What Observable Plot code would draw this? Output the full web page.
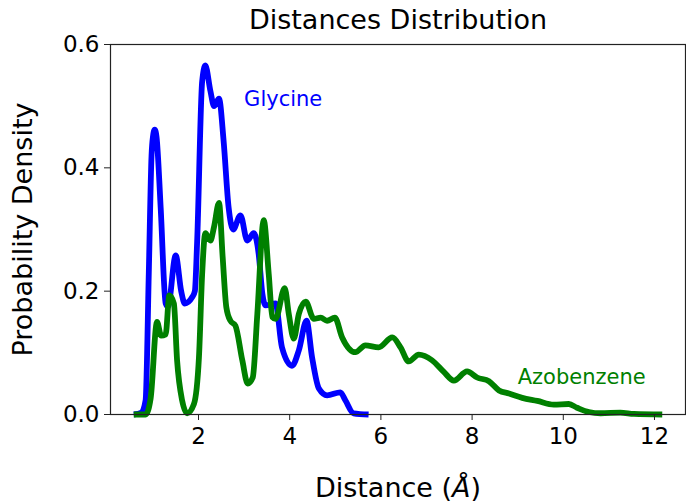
<!DOCTYPE html>
<html>
<head>
<meta charset="utf-8">
<script src="https://cdn.jsdelivr.net/npm/d3@7"></script>
<script src="https://cdn.jsdelivr.net/npm/@observablehq/plot@0.6"></script>
<style>
  html, body { margin: 0; padding: 0; background: white; }
</style>
</head>
<body>
<div id="chart"></div>
<script>
const glyX = [0.58, 0.75, 0.84, 0.91, 0.97, 1.0, 1.04, 1.08, 1.17, 1.28, 1.33, 1.5, 1.62, 1.70, 1.86, 1.92, 1.97, 2.08, 2.15, 2.26, 2.34, 2.45, 2.55, 2.66, 2.76, 2.92, 3.07, 3.21, 3.32, 3.40, 3.47, 3.69, 3.83, 4.05, 4.2, 4.37, 4.49, 4.64, 4.82, 5.11, 5.22, 5.40, 5.73];
const glyY = [0, 0.003, 0.023, 0.23, 0.42, 0.45, 0.462, 0.45, 0.336, 0.18, 0.175, 0.258, 0.2, 0.18, 0.19, 0.2, 0.28, 0.54, 0.566, 0.525, 0.50, 0.512, 0.444, 0.336, 0.30, 0.323, 0.282, 0.294, 0.26, 0.196, 0.177, 0.18, 0.109, 0.079, 0.104, 0.152, 0.093, 0.042, 0.031, 0.036, 0.023, 0.002, 0];

const azoX = [0.58, 0.84, 0.95, 1.09, 1.18, 1.28, 1.36, 1.46, 1.53, 1.64, 1.75, 1.90, 2.01, 2.08, 2.15, 2.26, 2.34, 2.45, 2.53, 2.61, 2.70, 2.81, 2.96, 3.08, 3.19, 3.29, 3.43, 3.54, 3.62, 3.69, 3.89, 3.98, 4.09, 4.2, 4.35, 4.53, 4.68, 4.82, 4.99, 5.15, 5.44, 5.66, 5.95, 6.25, 6.43, 6.61, 6.83, 7.12, 7.38, 7.6, 7.89, 8.11, 8.37, 8.59, 8.81, 9.10, 9.43, 9.79, 10.12, 10.30, 10.56, 10.82, 11.25, 11.55, 12.17];
const azoY = [0, 0, 0.026, 0.15, 0.128, 0.13, 0.193, 0.18, 0.088, 0.023, 0.002, 0.017, 0.093, 0.228, 0.294, 0.282, 0.304, 0.343, 0.255, 0.174, 0.152, 0.144, 0.088, 0.05, 0.06, 0.163, 0.315, 0.228, 0.158, 0.155, 0.205, 0.163, 0.123, 0.163, 0.183, 0.155, 0.157, 0.152, 0.157, 0.125, 0.101, 0.112, 0.109, 0.125, 0.109, 0.086, 0.097, 0.088, 0.069, 0.055, 0.07, 0.06, 0.054, 0.039, 0.034, 0.027, 0.022, 0.016, 0.017, 0.011, 0.004, 0.002, 0.003, 0.001, 0];

const xTicks = [2, 4, 6, 8, 10, 12];
const yTicks = [0.0, 0.2, 0.4, 0.6];
const seriesNames = ["Glycine", "Azobenzene"];
const seriesColors = ["#0000ff", "#008000"];
const labelPos = [[3, 0.5], [9, 0.05]];
const titleText = "Distances Distribution";
const xLabel = "Distance (Å)";
const yLabel = "Probability Density";

const gly = glyX.map((x, i) => ({x, y: glyY[i]}));
const azo = azoX.map((x, i) => ({x, y: azoY[i]}));
const labels = seriesNames.map((name, i) => ({name, x: labelPos[i][0], y: labelPos[i][1], color: seriesColors[i]}));

const chart = Plot.plot({
  width: 686,
  height: 502,
  marginLeft: 110,
  marginRight: 1,
  marginTop: 44,
  marginBottom: 88,
  style: {fontFamily: "DejaVu Sans", background: "white", color: "black"},
  x: {domain: [0.07, 12.68]},
  y: {domain: [0, 0.6]},
  marks: [
    Plot.line(gly, {x: "x", y: "y", stroke: seriesColors[0], strokeWidth: 5.8, curve: "monotone-x", strokeLinejoin: "round", strokeLinecap: "butt"}),
    Plot.line(azo, {x: "x", y: "y", stroke: seriesColors[1], strokeWidth: 5.8, curve: "monotone-x", strokeLinejoin: "round", strokeLinecap: "butt"}),
    Plot.frame({stroke: "#222", strokeWidth: 1.2}),
    Plot.axisX({ticks: xTicks, tickSize: 6, tickPadding: 7, fontSize: 23, label: null, tickFormat: d => String(d), stroke: "#222"}),
    Plot.axisY({ticks: yTicks, tickSize: 6, tickPadding: 5, fontSize: 23, label: null, tickFormat: d => d.toFixed(1), stroke: "#222"}),
    Plot.text(labels, {x: "x", y: "y", text: "name", fill: "color", fontSize: 21, textAnchor: "start", lineAnchor: "bottom"}),
    Plot.text([titleText], {frameAnchor: "top", dy: -16, lineAnchor: "bottom", fontSize: 27, fill: "black"}),
    Plot.text([xLabel], {frameAnchor: "bottom", dy: 82, lineAnchor: "bottom", fontSize: 27, fill: "black"}),
    Plot.text([yLabel], {frameAnchor: "left", dx: -87, rotate: -90, textAnchor: "middle", lineAnchor: "middle", fontSize: 27, fill: "black"})
  ]
});

document.getElementById("chart").appendChild(chart);

// italicize the Å in the x-axis label
chart.querySelectorAll("text").forEach(t => {
  if (t.textContent === xLabel) {
    while (t.firstChild) t.removeChild(t.firstChild);
    const ns = "http://www.w3.org/2000/svg";
    const a = document.createElementNS(ns, "tspan"); a.textContent = "Distance (";
    const b = document.createElementNS(ns, "tspan"); b.textContent = "Å"; b.setAttribute("font-style", "italic");
    const c = document.createElementNS(ns, "tspan"); c.textContent = ")";
    t.appendChild(a); t.appendChild(b); t.appendChild(c);
  }
});
</script>
</body>
</html>
